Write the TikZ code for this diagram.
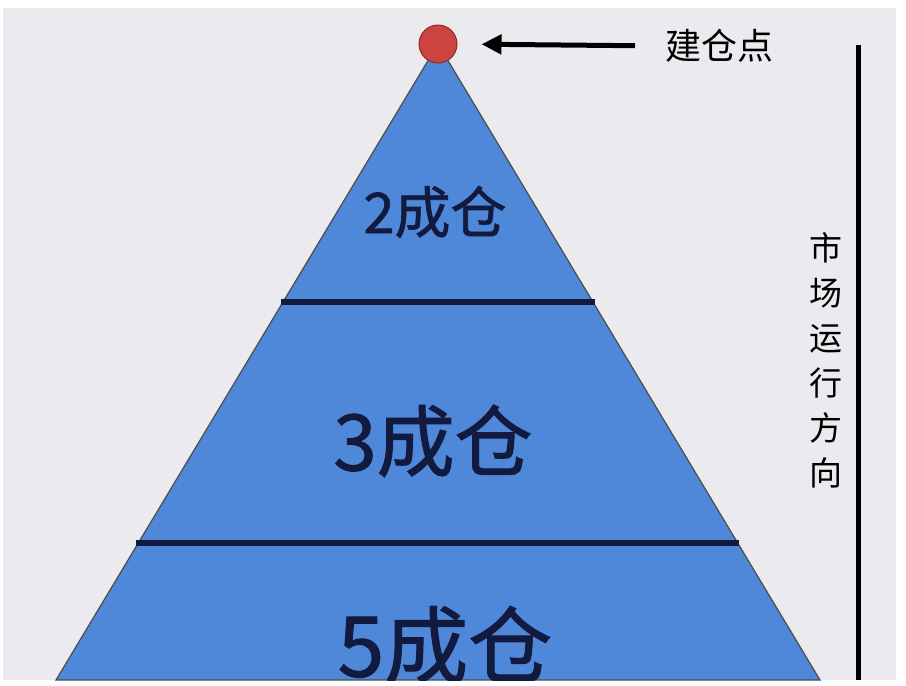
\documentclass[tikz,border=0pt]{standalone}
\usepackage{fontspec}
\setmainfont{Noto Sans CJK SC}
\newfontfamily\tierfont[FakeBold=1.2]{Noto Sans CJK SC}
\usetikzlibrary{arrows.meta,positioning}
\definecolor{pyrblue}{HTML}{4F88D8}
\definecolor{txtnavy}{HTML}{121B3F}
\definecolor{bggray}{HTML}{EBEBEF}
\definecolor{dotred}{HTML}{CC4440}
\definecolor{dotrim}{HTML}{8E2A2A}

\begin{document}
\begin{tikzpicture}[x=1pt,y=-1pt,
  level/.style={line width=5.5pt,draw=txtnavy},
  tier/.style={text=txtnavy,inner sep=0pt},
  dot/.style={circle,fill=dotred,draw=dotrim,line width=1pt,minimum size=38pt,inner sep=0pt},
  note/.style={text=black,inner sep=0pt,font=\fontsize{36}{36}\selectfont},
  pointer/.style={line width=5pt,-{Triangle[length=20pt,width=19pt]}}]
\useasboundingbox (0,0) rectangle (906,686);
\fill [white] (0,0) rectangle (906,686);
\fill [bggray] (3,8) rectangle (896,680);
\begin{scope}
\clip (3,8) rectangle (896,680);
% pyramid
\draw [fill=pyrblue,draw=black!70,line width=1.2pt] (438,44) -- (56,680) -- (820,680) -- cycle;
\draw [level] (281,302) -- (595,302);
\draw [level] (136,543) -- (739,543);
\node [tier,font=\tierfont\fontsize{56}{56}\selectfont] (t2) at (435,212) {2成仓};
\node [tier,font=\tierfont\fontsize{78}{78}\selectfont] (t3) at (433,441) {3成仓};
\node [tier,font=\tierfont\fontsize{84}{84}\selectfont] (t5) at (445,645) {5成仓};
\end{scope}
% entry point
\node [dot] (top) at (438,44) {};
\node [note,anchor=west] (jcd) at (665,46) {建仓点};
\draw [pointer,shorten <=30pt,shorten >=24pt] (jcd.west) -- (top.east);
% market direction
\draw [line width=5pt] (858,45) -- (858,680);
\node [text=black,align=center,inner sep=0pt,font=\fontsize{33}{45}\selectfont] (dir) at (826,360) {市\\场\\运\\行\\方\\向};
\end{tikzpicture}
\end{document}
